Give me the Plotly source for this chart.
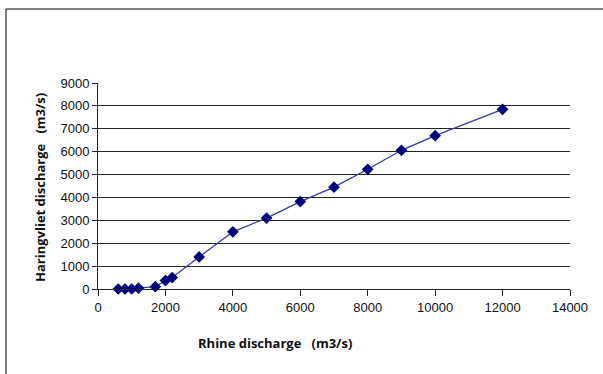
import plotly.graph_objects as go

rhine = [600, 800, 1000, 1200, 1700, 2000, 2200, 3000, 4000, 5000, 6000, 7000, 8000, 9000, 10000, 12000]
haringvliet = [0, 0, 0, 40, 100, 370, 500, 1400, 2500, 3100, 3820, 4450, 5230, 6060, 6700, 7850]

x_ticks = [0, 2000, 4000, 6000, 8000, 10000, 12000, 14000]
y_ticks = [0, 1000, 2000, 3000, 4000, 5000, 6000, 7000, 8000, 9000]

L, R, T, B = 98, 33, 83, 85
W, H = 603, 374
pw, ph = W - L - R, H - T - B

def px(xp):
    return (xp - L) / pw

def py(yp):
    return (H - B - yp) / ph

fig = go.Figure()
fig.add_trace(go.Scatter(
    x=rhine, y=haringvliet, mode="lines+markers",
    line=dict(color="#3a3aa0", width=1.3),
    marker=dict(symbol="diamond", size=9, color="#000080"),
    showlegend=False, cliponaxis=False,
))

title_font = dict(family="Open Sans, Liberation Sans", size=13, color="#111")

fig.update_layout(
    width=W, height=H,
    margin=dict(l=L, r=R, t=T, b=B),
    paper_bgcolor="white", plot_bgcolor="white",
    font=dict(family="Liberation Sans, Arial", color="#111111", size=13),
    xaxis=dict(
        range=[0, 14000], tickvals=x_ticks, ticktext=[str(v) for v in x_ticks],
        showgrid=False, zeroline=False, showline=True, linecolor="#222", linewidth=1,
        ticks="outside", ticklen=6, tickcolor="#222",
        tickfont=dict(size=13, color="#111"),
    ),
    yaxis=dict(
        range=[0, 9000], tickvals=y_ticks, ticktext=[str(v) for v in y_ticks],
        showgrid=True, gridcolor="#222", gridwidth=1,
        zeroline=False, showline=True, linecolor="#222", linewidth=1,
        ticks="outside", ticklen=5, tickcolor="#222",
        tickfont=dict(size=13, color="#111"),
    ),
    annotations=[
        dict(text="<b>Rhine discharge   (m3/s)</b>", xref="paper", yref="paper",
             x=px(275), y=py(343), xanchor="center", yanchor="middle",
             showarrow=False, font=title_font),
        dict(text="<b>Haringvliet discharge   (m3/s)</b>", xref="paper", yref="paper",
             x=px(40), y=py(188), xanchor="center", yanchor="middle", textangle=-90,
             showarrow=False, font=title_font),
    ],
)

fig.add_shape(type="line", xref="paper", yref="paper",
              x0=px(6), x1=px(6), y0=py(9), y1=py(380),
              line=dict(color="#555", width=1.5))
fig.add_shape(type="line", xref="paper", yref="paper",
              x0=px(6), x1=px(610), y0=py(9), y1=py(9),
              line=dict(color="#555", width=1.5))

fig.write_html("out.html")
